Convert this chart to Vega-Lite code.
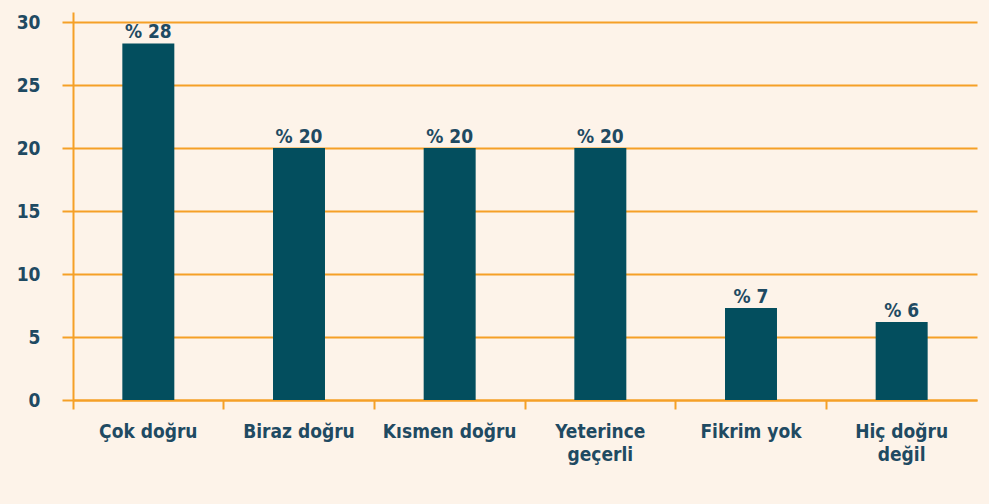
{
  "$schema": "https://vega.github.io/schema/vega-lite/v6.json",
  "width": 904,
  "height": 388,
  "autosize": "none",
  "padding": {"left": 73, "top": 12, "right": 12, "bottom": 104},
  "background": "#fdf3e9",
  "config": {
    "view": {"stroke": null},
    "font": "DejaVu Sans Condensed, Open Sans, sans-serif",
    "axis": {"labelFont": "DejaVu Sans Condensed, Open Sans, sans-serif", "labelFontWeight": "bold", "labelColor": "#1f4a62", "labelFontSize": 19}
  },
  "data": {"values": [
    {"cat": "Çok doğru", "val": 28.3, "label": "% 28"},
    {"cat": "Biraz doğru", "val": 20, "label": "% 20"},
    {"cat": "Kısmen doğru", "val": 20, "label": "% 20"},
    {"cat": "Yeterince geçerli", "val": 20, "label": "% 20"},
    {"cat": "Fikrim yok", "val": 7.3, "label": "% 7"},
    {"cat": "Hiç doğru değil", "val": 6.2, "label": "% 6"}
  ]},
  "encoding": {
    "x": {"field": "cat", "type": "nominal", "sort": null,
      "scale": {"paddingInner": 0, "paddingOuter": 0},
      "axis": {"title": null, "labelAngle": 0, "domainColor": "#f5a027", "domainWidth": 2, "tickColor": "#f5a027", "tickWidth": 2, "tickSize": 9, "bandPosition": 0, "labelPadding": 13, "labelBaseline": "top", "labelLineHeight": 23,
        "labelExpr": "datum.label == 'Yeterince geçerli' ? ['Yeterince', 'geçerli'] : datum.label == 'Hiç doğru değil' ? ['Hiç doğru', 'değil'] : datum.label"}},
    "y": {"field": "val", "type": "quantitative",
      "scale": {"domain": [0, 30.8], "nice": false},
      "axis": {"title": null, "values": [0, 5, 10, 15, 20, 25, 30], "domainColor": "#f5a027", "domainWidth": 2, "tickColor": "#f5a027", "tickWidth": 2, "tickSize": 11, "grid": true, "gridColor": "#f5a027", "gridWidth": 2, "gridOpacity": 1, "labelPadding": 22}}
  },
  "layer": [
    {"mark": {"type": "bar", "color": "#034e5e", "width": {"band": 0.345}}},
    {"mark": {"type": "text", "baseline": "bottom", "dy": -1, "fontSize": 19, "fontWeight": "bold", "color": "#1f4a62"},
     "encoding": {"text": {"field": "label"}}}
  ]
}
